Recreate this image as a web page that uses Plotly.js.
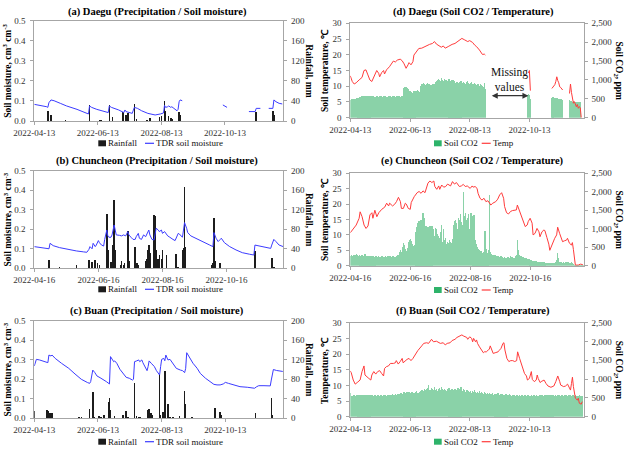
<!DOCTYPE html>
<html>
<head>
<meta charset="utf-8">
<script src="https://cdn.plot.ly/plotly-3.0.1.min.js"></script>
<style>
  html, body { margin: 0; padding: 0; background: #fff; }
  #chart { width: 630px; height: 450px; }
</style>
</head>
<body>
<div id="chart"></div>
<script>
// ---------------- Data ----------------
// Day offsets are counted from each site's first record date.
const daeguStart = '2022-04-13';
const chuncheonStart = '2022-04-16';
const buanStart = '2022-04-13';

const ticksApr13 = ['2022-04-13', '2022-06-13', '2022-08-13', '2022-10-13'];
const ticksApr16 = ['2022-04-16', '2022-06-16', '2022-08-16', '2022-10-16'];

// Daegu rainfall (mm)
const daeguRainDay = [13, 16, 30, 53, 63, 64, 69, 72, 75, 85, 88, 89, 90, 96, 98, 108, 111, 120, 122, 125, 126, 129, 131, 132, 139, 140, 213, 229, 230];
const daeguRainMm  = [20, 12, 2, 32, 3, 3, 1, 32, 7, 17, 12, 10, 15, 34, 4, 3, 5, 7, 9, 40, 19, 9, 5, 4, 17, 12, 17, 19, 12];

// Daegu TDR soil moisture (cm3 cm-3); null marks missing records
const daeguSmDay = [0, 6, 12, 13, 14, 16, 19, 25, 31, 41, 52, 53, 55, 60, 66, 71, 72, 74, 81, 85, 86, 87, 88, 94, 96, 99, 103, 109, 116, 121, 124, 125, 126, 128, 129, 131, 132, 134, 137, 138, 139, 140, 142,
  160, 181, 183, 185, 195, 206, 212, 213, 217, 220, 225, 229, 230, 232, 235, 238];
const daeguSmVal = [0.083, 0.078, 0.071, 0.068, 0.091, 0.105, 0.101, 0.088, 0.075, 0.058, 0.035, 0.075, 0.068, 0.058, 0.051, 0.042, 0.075, 0.068, 0.055, 0.045, 0.042, 0.055, 0.047, 0.038, 0.068, 0.063, 0.051, 0.038, 0.030, 0.035, 0.040, 0.078, 0.068, 0.071, 0.075, 0.068, 0.071, 0.063, 0.051, 0.058, 0.096, 0.105, 0.101,
  null, 0.080, 0.075, 0.068, null, 0.047, 0.047, 0.063, 0.063, null, 0.063, 0.063, 0.105, 0.096, 0.088, 0.085];

// Daegu soil temperature (deg C)
const daeguTempDay = [0, 2, 4, 6, 9, 12, 14, 16, 18, 20, 22, 25, 27, 29, 30, 32, 34, 35, 37, 40, 42, 44, 46, 48, 51, 53, 55, 57, 59, 60, 62, 64, 65, 68, 70, 73, 76, 78, 81, 84, 86, 88, 91, 93, 95, 97, 100, 102, 104, 107, 110, 112, 114, 117, 120, 122, 125, 127, 129, 132, 134, 135, 137, 138,
  160, 182, 183, 184, 195, 206, 208, 209, 210, 211, 212, 213, 214, 215, 217, 220, 224, 225, 226, 227, 228, 229, 230, 231, 232, 233, 234, 235, 236];
const daeguTempVal = [13.3, 11.5, 10.7, 11.1, 12.0, 12.8, 15.0, 15.2, 13.6, 12.0, 11.5, 13.6, 15.0, 14.1, 13.0, 14.3, 15.0, 13.9, 15.2, 16.2, 17.3, 18.0, 17.7, 18.3, 18.6, 18.1, 17.1, 15.7, 16.8, 17.5, 16.8, 17.8, 19.9, 21.3, 22.0, 22.1, 22.6, 22.9, 23.3, 23.6, 24.2, 23.4, 22.8, 22.4, 22.8, 22.1, 22.6, 23.1, 23.3, 23.6, 24.2, 24.7, 25.2, 24.7, 24.2, 24.5, 23.9, 23.1, 22.6, 21.5, 20.7, 20.1, 20.2, 19.9,
  null, 14.2, 15.0, 8.6, null, 9.3, 10.0, 10.5, 11.5, 13.0, 11.8, 11.1, 9.8, 9.6, 8.8, null, 7.7, 10.7, 8.0, 5.8, 4.6, 5.1, 4.0, 3.5, 4.2, 3.0, 3.5, 3.2, 0.0];

// Daegu soil CO2 (ppm), one value per day from the start date
const daeguCo2 = [
  480, 490, 495, 500, 505, 498, 510, 500, 520, 515,
  560, 540, 580, 570, 560, 575, 565, 580, 560, 570,
  575, 560, 580, 570, 565, 555, 560, 575, 570, 560,
  580, 570, 575, 560, 565, 580, 570, 560, 555, 570,
  565, 575, 560, 570, 580, 565, 560, 575, 570, 565,
  570, 560, 575, 580, 570, 780, 800, 810, 790, 760,
  720, 700, 690, 660, 640, 700, 720, 680, 700, 730,
  710, 690, 850, 880, 900, 920, 880, 870, 890, 910,
  880, 900, 870, 860, 890, 880, 900, 950, 980, 1000,
  1030, 990, 960, 1040, 1000, 980, 1020, 990, 1010, 970,
  1000, 1030, 980, 960, 990, 1000, 970, 900, 930, 950,
  920, 900, 940, 960, 920, 910, 950, 930, 900, 940,
  960, 920, 890, 930, 950, 900, 880, 920, 900, 870,
  900, 880, 850, 880, 860, 840, 820, 930, 760, null,
  null, null, null, null, null, null, null, null, null, null,
  null, null, null, null, null, null, null, null, null, null,
  null, null, null, null, null, null, null, null, null, null,
  null, null, null, null, null, null, null, null, null, null,
  null, 610, 620, 600, 500, null, null, null, null, null,
  null, null, null, null, null, null, null, null, null, null,
  null, null, null, null, null, null, 530, 540, 535, 520,
  530, 515, 510, 500, 505, 495, 490, 480, null, null,
  null, null, null, null, 460, 450, 455, 420, 430, 415,
  420, 425, 410, 420, 415, 425, null, null
];

// Chuncheon rainfall (mm)
const chuncheonRainDay = [14, 24, 40, 52, 55, 58, 60, 62, 69, 70, 73, 74, 75, 76, 77, 82, 83, 85, 86, 89, 90, 96, 98, 99, 106, 107, 108, 109, 110, 114, 115, 116, 118, 119, 121, 122, 126, 135, 137, 141, 142, 143, 144, 169, 170, 171, 172, 177, 210, 226, 228];
const chuncheonRainMm  = [18, 3, 7, 18, 12, 17, 10, 7, 111, 38, 12, 7, 48, 139, 38, 7, 14, 7, 10, 76, 14, 44, 10, 7, 14, 20, 38, 48, 32, 109, 107, 38, 19, 27, 20, 38, 28, 29, 3, 38, 41, 167, 44, 7, 10, 104, 14, 10, 35, 22, 3];

// Chuncheon TDR soil moisture (cm3 cm-3)
const chuncheonSmDay = [0, 5, 12, 14, 15, 18, 24, 31, 40, 47, 50, 52, 53, 55, 56, 58, 59, 61, 62, 64, 66, 67, 69, 70, 71, 73, 74, 76, 77, 78, 81, 83, 85, 87, 89, 90, 92, 94, 96, 97, 99, 100, 102, 104, 106, 108, 109, 110, 112, 114, 115, 116, 118, 119, 121, 122, 124, 126, 127, 129, 130, 132, 134, 135, 137, 138, 140, 141, 142, 143, 145, 146, 149, 154, 160, 167, 170, 171, 173, 175, 177, 178, 181, 186, 192, 198, 205, 209, 210, 214, 221, 225, 226, 228, 230, 233, 237];
const chuncheonSmVal = [0.111, 0.106, 0.100, 0.100, 0.128, 0.116, 0.106, 0.097, 0.089, 0.084, 0.082, 0.097, 0.111, 0.100, 0.128, 0.111, 0.119, 0.142, 0.131, 0.119, 0.114, 0.148, 0.196, 0.166, 0.159, 0.159, 0.171, 0.222, 0.188, 0.171, 0.169, 0.166, 0.171, 0.166, 0.188, 0.171, 0.159, 0.148, 0.148, 0.162, 0.179, 0.154, 0.148, 0.171, 0.162, 0.183, 0.196, 0.171, 0.148, 0.145, 0.179, 0.205, 0.196, 0.188, 0.196, 0.179, 0.188, 0.171, 0.166, 0.159, 0.154, 0.148, 0.142, 0.154, 0.179, 0.176, 0.162, 0.159, 0.196, 0.234, 0.205, 0.183, 0.166, 0.154, 0.137, 0.119, 0.111, 0.183, 0.154, 0.137, 0.148, 0.154, 0.131, 0.111, 0.094, 0.080, 0.072, 0.068, 0.119, 0.114, 0.108, 0.102, 0.119, 0.148, 0.137, 0.119, 0.111];

// Chuncheon soil temperature (deg C)
const chuncheonTempDay = [0, 3, 6, 9, 10, 12, 14, 16, 18, 20, 22, 23, 25, 27, 29, 32, 35, 37, 39, 40, 43, 45, 47, 49, 51, 52, 54, 56, 57, 59, 61, 62, 65, 68, 70, 72, 74, 76, 79, 81, 83, 85, 86, 88, 90, 91, 93, 95, 97, 99, 102, 104, 106, 108, 111, 113, 115, 117, 119, 122, 124, 125, 127, 129, 130, 132, 134, 136, 138, 140, 143, 145, 148, 150, 152, 154, 156, 157, 159, 161, 163, 165, 167, 169, 170, 172, 174, 176, 178, 180, 181, 183, 185, 186, 188, 190, 192, 193, 195, 197, 198, 200, 202, 203, 205, 207, 208, 210, 211, 213, 215, 216, 218, 220, 221, 223, 225, 226, 227, 229, 232, 234, 236, 237];
const chuncheonTempVal = [10.7, 11.8, 13.2, 15.4, 17.5, 15.9, 13.2, 12.1, 12.9, 16.5, 17.2, 15.4, 18.0, 15.9, 17.2, 18.3, 19.0, 20.3, 19.4, 20.3, 19.4, 19.9, 20.8, 22.2, 20.8, 18.6, 18.6, 20.3, 20.0, 18.6, 18.3, 20.5, 22.4, 23.7, 24.1, 23.5, 24.3, 23.7, 26.8, 27.5, 27.0, 27.5, 25.7, 24.8, 25.9, 24.8, 26.2, 25.5, 25.7, 26.5, 25.9, 27.3, 26.5, 27.0, 25.7, 25.9, 26.4, 25.7, 25.9, 25.1, 25.9, 25.5, 25.7, 25.1, 23.5, 21.9, 21.3, 21.9, 20.8, 21.1, 19.7, 20.3, 20.8, 21.6, 23.0, 23.7, 21.9, 19.2, 17.2, 16.8, 17.6, 17.9, 18.1, 18.1, 19.7, 18.1, 16.5, 14.8, 12.7, 13.2, 14.3, 15.4, 13.8, 10.0, 10.5, 12.1, 11.0, 9.4, 11.0, 11.6, 11.4, 9.2, 7.0, 5.0, 6.7, 8.3, 8.9, 10.0, 12.5, 10.5, 8.3, 7.8, 8.1, 8.3, 8.9, 7.3, 6.7, 7.5, 5.3, 0.2, 0.2, 0.5, 0.4, 0.2];

// Chuncheon soil CO2 (ppm), daily
const chuncheonCo2 = [
  270, 280, 260, 290, 300, 280, 330, 290, 270, 280,
  260, 270, 280, 250, 260, 330, 250, 260, 255, 265,
  250, 260, 240, 250, 230, 240, 260, 250, 240, 250,
  240, 230, 250, 260, 240, 230, 250, 240, 260, 270,
  260, 250, 240, 260, 250, 240, 230, 250, 280, 300,
  380, 420, 360, 500, 620, 560, 450, 400, 480, 650,
  700, 720, 680, 600, 520, 560, 650, 900, 1050, 1150,
  1200, 1100, 1250, 1150, 1420, 1300, 1050, 1080, 900, 1050,
  1000, 1070, 850, 1080, 950, 1000, 800, 1020, 1000, 850,
  800, 750, 900, 1100, 650, 1000, 700, 750, 600, 650,
  620, 700, 650, 620, 720, 1100, 1200, 1250, 1150, 1000,
  1300, 1250, 1400, 1180, 1100, 2000, 1350, 1420, 1250, 1300,
  1400, 1000, 1420, 1420, 1350, 900, 1380, 700, 600, 500,
  450, 420, 380, 400, 350, 320, 380, 940, 450, 350,
  300, 420, 1920, 380, 320, 300, 280, 290, 300, 260,
  270, 250, 240, 260, 250, 230, 220, 240, 220, 210,
  230, 240, 210, 250, 230, 240, 220, 200, 260, 300,
  700, 420, 300, 260, 250, 240, 230, 220, 210, 200,
  190, 180, 170, 160, 150, 140, 130, 140, 120, 130,
  110, 100, 110, 90, 100, 90, 80, 90, 80, 70,
  70, 80, 70, 80, 70, 60, 80, 70, 80, 90,
  150, 340, 200, 110, 90, 100, 80, 90, 80, 100,
  110, 90, 100, 80, 70, 90, 60, 40, 30, 20,
  20, 20, 30, 20, 20, 30, 20, 20
];

// Buan rainfall (mm)
const buanRainDay = [0, 12, 13, 15, 17, 43, 45, 53, 56, 57, 62, 64, 67, 71, 72, 73, 77, 85, 88, 90, 96, 98, 100, 101, 109, 110, 112, 113, 120, 121, 123, 125, 128, 130, 133, 139, 144, 145, 151, 173, 178, 179, 212, 219, 227, 228];
const buanRainMm  = [14, 17, 14, 10, 10, 3, 2, 19, 53, 3, 5, 3, 7, 34, 42, 17, 5, 7, 14, 3, 72, 5, 3, 2, 17, 19, 10, 7, 91, 7, 12, 96, 29, 3, 2, 5, 55, 29, 2, 22, 12, 7, 10, 1, 42, 7];

// Buan TDR soil moisture (cm3 cm-3)
const buanSmDay = [0, 2, 5, 12, 13, 14, 16, 17, 20, 26, 33, 39, 45, 51, 53, 54, 56, 58, 60, 63, 66, 69, 72, 73, 75, 76, 77, 79, 82, 85, 88, 91, 94, 95, 96, 98, 100, 101, 103, 104, 106, 108, 109, 110, 112, 115, 117, 120, 121, 122, 124, 125, 126, 127, 128, 130, 132, 133, 136, 140, 142, 144, 145, 146, 148, 149, 152, 156, 159, 164, 168, 172, 175, 178, 181, 183, 186, 191, 197, 204, 210, 211, 213, 215, 220, 224, 226, 227, 229, 232, 235, 238];
const buanSmVal = [0.268, 0.302, 0.299, 0.288, 0.285, 0.324, 0.319, 0.324, 0.307, 0.282, 0.256, 0.227, 0.200, 0.183, 0.179, 0.188, 0.247, 0.234, 0.217, 0.208, 0.200, 0.188, 0.176, 0.316, 0.299, 0.290, 0.294, 0.282, 0.251, 0.230, 0.210, 0.205, 0.196, 0.200, 0.290, 0.294, 0.299, 0.290, 0.299, 0.285, 0.265, 0.244, 0.265, 0.294, 0.282, 0.265, 0.244, 0.222, 0.265, 0.302, 0.307, 0.295, 0.324, 0.312, 0.299, 0.302, 0.285, 0.278, 0.256, 0.247, 0.244, 0.234, 0.256, 0.336, 0.319, 0.307, 0.282, 0.256, 0.230, 0.205, 0.188, 0.174, 0.171, 0.171, 0.176, 0.184, 0.179, 0.171, 0.162, 0.159, 0.154, 0.154, 0.162, 0.167, 0.167, 0.166, 0.166, 0.196, 0.250, 0.245, 0.242, 0.240];

// Buan temperature (deg C)
const buanTempDay = [0, 1, 3, 5, 7, 10, 12, 14, 15, 17, 19, 21, 22, 24, 26, 28, 30, 32, 34, 35, 37, 39, 41, 44, 46, 47, 49, 51, 53, 54, 56, 58, 60, 62, 64, 66, 69, 73, 75, 78, 80, 83, 85, 88, 90, 92, 95, 97, 99, 102, 104, 107, 109, 112, 114, 116, 119, 120, 122, 124, 125, 126, 128, 129, 130, 132, 134, 136, 137, 139, 141, 142, 143, 145, 146, 148, 151, 152, 154, 156, 157, 158, 160, 162, 164, 166, 168, 170, 171, 173, 175, 176, 178, 180, 181, 183, 185, 186, 188, 190, 191, 192, 194, 195, 198, 200, 202, 205, 208, 210, 212, 214, 215, 218, 220, 222, 224, 225, 226, 227, 228, 230, 232, 233, 234, 236, 237];
const buanTempVal = [14.6, 14.0, 11.7, 10.4, 10.9, 11.7, 14.4, 16.2, 13.3, 12.6, 12.2, 11.7, 13.3, 14.4, 13.6, 14.4, 14.7, 13.8, 13.0, 15.4, 16.0, 16.2, 17.0, 17.0, 17.2, 17.9, 16.8, 17.6, 18.6, 17.2, 17.9, 18.3, 18.6, 17.9, 18.6, 19.7, 21.1, 22.6, 23.4, 23.6, 23.4, 24.7, 23.9, 24.1, 23.6, 23.4, 23.6, 22.9, 23.4, 23.6, 24.3, 24.7, 25.3, 25.7, 26.1, 25.7, 25.3, 24.7, 25.5, 25.0, 23.9, 25.0, 23.9, 24.5, 23.4, 22.3, 21.5, 20.4, 20.7, 20.7, 21.3, 21.5, 22.6, 21.3, 20.2, 20.4, 20.7, 21.1, 21.8, 23.4, 23.6, 21.3, 18.6, 17.6, 17.9, 17.9, 17.6, 17.9, 20.7, 18.6, 16.5, 15.4, 13.8, 13.0, 11.7, 12.2, 14.4, 11.9, 11.2, 11.7, 13.3, 12.2, 10.9, 11.2, 11.7, 10.6, 9.8, 9.4, 9.8, 11.2, 13.0, 11.2, 10.1, 9.6, 9.8, 10.4, 9.4, 8.5, 10.6, 12.6, 9.6, 5.9, 5.3, 5.9, 4.3, 4.0, 4.8];

// Buan soil CO2 (ppm), daily
const buanCo2 = [
  620, 560, 540, 570, 580, 550, 575, 585, 560, 570,
  580, 550, 570, 585, 560, 575, 580, 545, 570, 585,
  575, 560, 580, 570, 550, 585, 575, 560, 570, 580,
  560, 575, 585, 550, 570, 580, 590, 560, 575, 585,
  590, 570, 580, 600, 575, 590, 610, 580, 595, 600,
  610, 620, 640, 600, 630, 650, 620, 640, 660, 630,
  650, 640, 620, 660, 640, 600, 630, 660, 680, 640,
  620, 650, 680, 700, 720, 680, 750, 710, 730, 760,
  840, 720, 700, 760, 740, 700, 780, 720, 750, 690,
  740, 760, 710, 780, 730, 700, 750, 720, 690, 740,
  730, 760, 700, 720, 750, 690, 710, 740, 700, 720,
  760, 730, 700, 800, 720, 680, 740, 700, 660, 720,
  700, 680, 650, 690, 640, 680, 660, 700, 650, 640,
  660, 620, 680, 640, 650, 620, 600, 650, 630, 610,
  620, 600, 640, 610, 600, 620, 590, 610, 600, 580,
  600, 620, 590, 580, 600, 610, 580, 590, 570, 600,
  580, 590, 570, 600, 580, 560, 590, 570, 580, 560,
  590, 570, 560, 580, 550, 570, 590, 560, 570, 580,
  560, 570, 580, 560, 550, 570, 560, 580, 570, 560,
  570, 550, 560, 580, 570, 560, 575, 560, 550, 570,
  560, 575, 580, 560, 570, 555, 565, 580, 570, 560,
  575, 560, 570, 580, 565, 560, 575, 570, 560, 580,
  570, 580, 560, 575, 590, 570, 560, 580, 570, 560,
  565, 560, 555, 560, 565, 560, 560, 555
];

// ---------------- Helpers ----------------
const DAY = 864e5;
const W = 630, H = 450;
const FONT = '"Liberation Serif", "Times New Roman", serif';
const RAIN_COLOR = '#1c1c1c';
const SM_COLOR = '#3b3bff';
const CO2_COLOR = '#8ad2a8';
const CO2_KEY = '#2eb36a';
const TEMP_COLOR = '#ff3b3b';

function shiftDays(start, d) {
  return new Date(Date.parse(start + 'T00:00:00Z') + d * DAY).toISOString().slice(0, 10);
}
const datesFrom = (start, days) => days.map(d => shiftDays(start, d));
const dailyDates = (start, vals) => vals.map((_, i) => shiftDays(start, i));
const px = v => v / W;
const py = v => 1 - v / H;

const ids = n => ({
  x: n === 1 ? 'x' : 'x' + n,
  xk: n === 1 ? 'xaxis' : 'xaxis' + n,
  yb: 2 * n - 1 === 1 ? 'y' : 'y' + (2 * n - 1),
  ybk: 2 * n - 1 === 1 ? 'yaxis' : 'yaxis' + (2 * n - 1),
  yl: 'y' + 2 * n,
  ylk: 'yaxis' + 2 * n
});

// ---------------- Traces ----------------
const traces = [];

function rainPanel(n, start, rainDay, rainMm, smDay, smVal) {
  const a = ids(n);
  traces.push({
    type: 'bar', x: datesFrom(start, rainDay), y: rainMm, xaxis: a.x, yaxis: a.yb,
    width: 1.5 * DAY, marker: { color: RAIN_COLOR, line: { width: 0 } }, showlegend: false
  });
  traces.push({
    type: 'scatter', mode: 'lines', x: datesFrom(start, smDay), y: smVal, xaxis: a.x, yaxis: a.yl,
    line: { color: SM_COLOR, width: 1 }, connectgaps: false, showlegend: false
  });
}

function co2Panel(n, start, co2, tempDay, tempVal) {
  const a = ids(n);
  traces.push({
    type: 'bar', x: dailyDates(start, co2), y: co2, xaxis: a.x, yaxis: a.yb,
    width: 1.3 * DAY, marker: { color: CO2_COLOR, line: { width: 0 } }, showlegend: false
  });
  traces.push({
    type: 'scatter', mode: 'lines', x: datesFrom(start, tempDay), y: tempVal, xaxis: a.x, yaxis: a.yl,
    line: { color: TEMP_COLOR, width: 1 }, connectgaps: false, showlegend: false
  });
}

rainPanel(1, daeguStart, daeguRainDay, daeguRainMm, daeguSmDay, daeguSmVal);
rainPanel(2, chuncheonStart, chuncheonRainDay, chuncheonRainMm, chuncheonSmDay, chuncheonSmVal);
rainPanel(3, buanStart, buanRainDay, buanRainMm, buanSmDay, buanSmVal);
co2Panel(4, daeguStart, daeguCo2, daeguTempDay, daeguTempVal);
co2Panel(5, chuncheonStart, chuncheonCo2, chuncheonTempDay, chuncheonTempVal);
co2Panel(6, buanStart, buanCo2, buanTempDay, buanTempVal);

// ---------------- Layout ----------------
const layout = {
  width: W, height: H,
  margin: { l: 0, r: 0, t: 0, b: 0 },
  paper_bgcolor: '#fff', plot_bgcolor: '#fff',
  font: { family: FONT, size: 9, color: '#222' },
  showlegend: false,
  bargap: 0,
  annotations: [], shapes: []
};

const axisCommon = {
  showgrid: false, zeroline: false,
  showline: true, mirror: true, linecolor: '#a6a6a6', linewidth: 1,
  ticks: 'outside', ticklen: 3, tickcolor: '#a6a6a6',
  tickfont: { family: FONT, size: 9, color: '#333' },
  fixedrange: true
};

function panelAxes(n, box, xRange, tickDates, barAx, lineAx) {
  const a = ids(n);
  layout[a.xk] = Object.assign({}, axisCommon, {
    domain: [px(box.l), px(box.r)], anchor: a.yb, type: 'date',
    range: xRange, tickvals: tickDates, tickformat: '%Y-%m-%d'
  });
  layout[a.ybk] = Object.assign({}, axisCommon, {
    domain: [py(box.b), py(box.t)], anchor: a.x, side: 'right',
    range: barAx.range, tick0: 0, dtick: barAx.dtick, tickformat: barAx.fmt,
    ticklabelstandoff: 2
  });
  layout[a.ylk] = Object.assign({}, axisCommon, {
    overlaying: a.yb, anchor: a.x, side: 'left', showline: false,
    range: lineAx.range, tick0: 0, dtick: lineAx.dtick, tickformat: lineAx.fmt,
    ticklabelstandoff: 3
  });
}

const rainAxis = { range: [0, 200], dtick: 40, fmt: 'd' };
const smAxis = { range: [0, 0.5], dtick: 0.1, fmt: '.1f' };
const co2Axis = { range: [0, 2500], dtick: 500, fmt: ',d' };
const tempAxis = { range: [0, 30], dtick: 5, fmt: 'd' };

const boxes = {
  1: { l: 34.3, r: 283.3, t: 20.7, b: 121.0 },
  2: { l: 34.3, r: 283.3, t: 170.7, b: 268.3 },
  3: { l: 34.3, r: 283.3, t: 320.7, b: 418.3 },
  4: { l: 350.3, r: 583.7, t: 23.3, b: 117.7 },
  5: { l: 350.3, r: 583.7, t: 173.3, b: 265.7 },
  6: { l: 350.3, r: 583.7, t: 322.7, b: 416.7 }
};

panelAxes(1, boxes[1], ['2022-04-13', '2022-12-08'], ticksApr13, rainAxis, smAxis);
panelAxes(2, boxes[2], ['2022-04-16', '2022-12-09'], ticksApr16, rainAxis, smAxis);
panelAxes(3, boxes[3], ['2022-04-13', '2022-12-07 12:00'], ticksApr13, rainAxis, smAxis);
panelAxes(4, boxes[4], ['2022-04-13', '2022-12-07 12:00'], ticksApr13, co2Axis, tempAxis);
panelAxes(5, boxes[5], ['2022-04-16', '2022-12-09 12:00'], ticksApr16, co2Axis, tempAxis);
panelAxes(6, boxes[6], ['2022-04-13', '2022-12-07 12:00'], ticksApr13, co2Axis, tempAxis);

function label(text, x, y, opts) {
  layout.annotations.push(Object.assign({
    text: text, xref: 'paper', yref: 'paper', x: px(x), y: py(y),
    xanchor: 'center', yanchor: 'middle', showarrow: false,
    font: { family: FONT, size: 9, color: '#111' }
  }, opts || {}));
}

// Panel titles
const titleFont = { family: FONT, size: 10.5, color: '#000' };
label('<b>(a) Daegu (Precipitation / Soil moisture)</b>', 157, 11.7, { font: titleFont });
label('<b>(b) Chuncheon (Precipitation / Soil moisture)</b>', 157, 161, { font: titleFont });
label('<b>(c) Buan (Precipitation / Soil moisture)</b>', 157, 311, { font: titleFont });
label('<b>(d) Daegu (Soil CO2 / Temperature)</b>', 473, 11.7, { font: titleFont });
label('<b>(e) Chuncheon (Soil CO2 / Temperature)</b>', 472, 161, { font: titleFont });
label('<b>(f) Buan (Soil CO2 / Temperature)</b>', 473, 311, { font: titleFont });

// Axis titles
const axTitleFont = { family: FONT, size: 9.5, color: '#000' };
[1, 2, 3].forEach(n => {
  const c = (boxes[n].t + boxes[n].b) / 2;
  label('<b>Soil moisture, cm<sup>3</sup> cm<sup>-3</sup></b>', 7, c, { textangle: -90, font: axTitleFont });
  label('<b>Rainfall, mm</b>', 309.5, c, { textangle: 90, font: axTitleFont });
});
[4, 5, 6].forEach(n => {
  const c = (boxes[n].t + boxes[n].b) / 2;
  label(n === 6 ? '<b>Temperature, ℃</b>' : '<b>Soil temperature, ℃</b>', 324.5, c, { textangle: -90, font: axTitleFont });
  label('<b>Soil CO<sub>2</sub>, ppm</b>', 618, c, { textangle: 90, font: axTitleFont });
});

// Legend keys under each panel
function legendRow(cy, swatchColor, swatchText, lineColor, lineText, isCo2) {
  const s = isCo2 ? { x0: 434, x1: 441.7, t0: 442.7, l0: 481.7, l1: 490.7, t1: 491.7 }
                  : { x0: 98.3, x1: 106, t0: 107.3, l0: 145, l1: 154, t1: 155 };
  layout.shapes.push({ type: 'rect', xref: 'paper', yref: 'paper',
    x0: px(s.x0), x1: px(s.x1), y0: py(cy + 3), y1: py(cy - 3),
    fillcolor: swatchColor, line: { width: 0 } });
  layout.shapes.push({ type: 'line', xref: 'paper', yref: 'paper',
    x0: px(s.l0), x1: px(s.l1), y0: py(cy), y1: py(cy),
    line: { color: lineColor, width: 1.2 } });
  label(swatchText, s.t0, cy, { xanchor: 'left', borderpad: 0 });
  label(lineText, s.t1, cy, { xanchor: 'left', borderpad: 0 });
}
legendRow(143.3, RAIN_COLOR, 'Rainfall', SM_COLOR, 'TDR soil moisture', false);
legendRow(289.3, RAIN_COLOR, 'Rainfall', SM_COLOR, 'TDR soil moisture', false);
legendRow(441.7, RAIN_COLOR, 'Rainfall', SM_COLOR, 'TDR soil moisture', false);
legendRow(143.3, CO2_KEY, 'Soil CO2', TEMP_COLOR, 'Temp', true);
legendRow(290.0, CO2_KEY, 'Soil CO2', TEMP_COLOR, 'Temp', true);
legendRow(441.7, CO2_KEY, 'Soil CO2', TEMP_COLOR, 'Temp', true);

// Gap note on the Daegu CO2 / temperature panel
layout.annotations.push({
  xref: 'x4', yref: 'y8', x: '2022-09-23', y: 12,
  text: 'Missing<br>values', showarrow: false,
  font: { family: FONT, size: 11.5, color: '#111' }
});
layout.annotations.push({
  xref: 'x4', yref: 'y8', axref: 'x4', ayref: 'y8',
  x: '2022-10-12', y: 7, ax: '2022-09-03', ay: 7,
  text: '', showarrow: true, arrowhead: 2, arrowside: 'end+start',
  arrowsize: 1, arrowwidth: 1.2, arrowcolor: '#333'
});

Plotly.newPlot('chart', traces, layout, { staticPlot: true, displayModeBar: false }).then(gd => {
  // Drop the empty placeholder text nodes left for the unused axis titles
  gd.querySelectorAll('text').forEach(t => {
    if (!t.textContent.trim()) t.remove();
  });
});
</script>
</body>
</html>
